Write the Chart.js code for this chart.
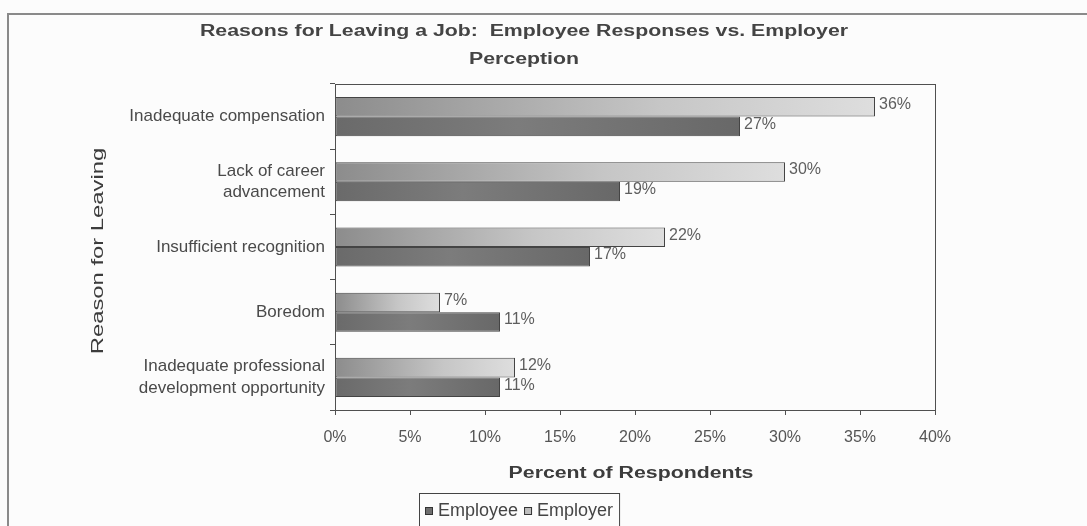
<!DOCTYPE html>
<html>
<head>
<meta charset="utf-8">
<script src="https://cdn.jsdelivr.net/npm/chart.js@4.4.1/dist/chart.umd.min.js"></script>
<style>
  html, body { margin: 0; padding: 0; background: #fcfcfc; }
  #wrap { width: 1087px; height: 526px; position: relative; overflow: hidden; }
  canvas { display: block; }
</style>
</head>
<body>
<div id="wrap"><canvas id="chart" width="1087" height="526"></canvas></div>
<script>
// ---------------- data ----------------
const chartTitle = ['Reasons for Leaving a Job:  Employee Responses vs. Employer', 'Perception'];
const categories = [
  ['Inadequate compensation'],
  ['Lack of career', 'advancement'],
  ['Insufficient recognition'],
  ['Boredom'],
  ['Inadequate professional', 'development opportunity']
];
const employeeValues = [27, 19, 17, 11, 11];
const employerValues = [36, 30, 22, 7, 12];
const seriesNames = ['Employee', 'Employer'];
const xTickLabels = ['0%', '5%', '10%', '15%', '20%', '25%', '30%', '35%', '40%'];
const xAxisTitle = 'Percent of Respondents';
const yAxisTitle = 'Reason for Leaving';

// ---------------- styles ----------------
const FONT = '"Liberation Sans", Arial, sans-serif';
const employeeStops = [[0, '#6a6a6a'], [0.45, '#7c7c7c'], [1, '#686868']];
const employerStops = [[0, '#8c8c8c'], [0.6, '#c6c6c6'], [1, '#dedede']];
const employeeSolid = '#6e6e6e';
const employerSolid = '#bdbdbd';

function barGradient(stops) {
  return function (ctx) {
    const chart = ctx.chart;
    if (!chart.chartArea || ctx.type !== 'data') return stops[1][1];
    const xs = chart.scales.x;
    const x0 = xs.getPixelForValue(0);
    const x1 = xs.getPixelForValue(ctx.raw);
    if (!isFinite(x0) || !isFinite(x1) || x1 === x0) return stops[1][1];
    const g = chart.ctx.createLinearGradient(x0, 0, x1, 0);
    stops.forEach(s => g.addColorStop(s[0], s[1]));
    return g;
  };
}

function drawStretchedText(ctx, text, x, y, font, color, sx, rotate) {
  ctx.save();
  ctx.font = font;
  ctx.fillStyle = color;
  ctx.textAlign = 'center';
  ctx.textBaseline = 'middle';
  ctx.translate(x, y);
  if (rotate) ctx.rotate(-Math.PI / 2);
  ctx.scale(sx, 1);
  ctx.fillText(text, 0, 0);
  ctx.restore();
}

const decorPlugin = {
  id: 'decor',
  beforeDraw(chart) {
    const ctx = chart.ctx;
    ctx.save();
    ctx.fillStyle = '#fcfcfc';
    ctx.fillRect(0, 0, chart.width, chart.height);
    // outer frame
    ctx.strokeStyle = '#8a8a8a';
    ctx.lineWidth = 2;
    ctx.beginPath();
    ctx.moveTo(8, chart.height + 2);
    ctx.lineTo(8, 14);
    ctx.lineTo(chart.width + 2, 14);
    ctx.stroke();
    ctx.restore();
  },
  afterDatasetsDraw(chart) {
    const ctx = chart.ctx;
    const a = chart.chartArea;
    // plot area frame
    ctx.save();
    ctx.strokeStyle = '#505050';
    ctx.lineWidth = 1;
    ctx.strokeRect(Math.round(a.left) + 0.5, Math.round(a.top) + 0.5,
                   Math.round(a.right - a.left), Math.round(a.bottom - a.top));
    // data labels
    ctx.font = '16px ' + FONT;
    ctx.fillStyle = '#5e5e5e';
    ctx.textAlign = 'left';
    ctx.textBaseline = 'middle';
    chart.data.datasets.forEach((ds, di) => {
      const meta = chart.getDatasetMeta(di);
      meta.data.forEach((bar, i) => {
        ctx.fillText(ds.data[i] + '%', bar.x + 4, bar.y - 2);
      });
    });
    ctx.restore();
  },
  afterDraw(chart) {
    const ctx = chart.ctx;
    const a = chart.chartArea;
    // chart title
    drawStretchedText(ctx, chartTitle[0], 524, 32, 'bold 16px ' + FONT, '#444444', 1.33, false);
    drawStretchedText(ctx, chartTitle[1], 524, 60, 'bold 16px ' + FONT, '#444444', 1.33, false);
    // axis titles
    drawStretchedText(ctx, xAxisTitle, (a.left + a.right) / 2 - 4, 474, 'bold 16px ' + FONT, '#3c3c3c', 1.33, false);
    drawStretchedText(ctx, yAxisTitle, 98, (a.top + a.bottom) / 2 + 4, '17px ' + FONT, '#3c3c3c', 1.4, true);
    // legend (Employee first, then Employer)
    ctx.save();
    ctx.font = '18px ' + FONT;
    ctx.textBaseline = 'middle';
    ctx.textAlign = 'left';
    const order = [1, 0];
    const items = order.map(di => ({
      label: chart.data.datasets[di].label,
      color: chart.data.datasets[di].legendColor
    }));
    const box = 8, gap = 5, pad = 6, itemGap = 6;
    let total = pad * 2;
    items.forEach((it, k) => {
      it.w = ctx.measureText(it.label).width;
      total += box + gap + it.w + (k < items.length - 1 ? itemGap : 0);
    });
    const cx = 519;
    const left = Math.round(cx - total / 2);
    const top = 493;
    ctx.fillStyle = '#fcfcfc';
    ctx.fillRect(left, top, total, chart.height - top + 5);
    ctx.strokeStyle = '#444444';
    ctx.lineWidth = 1;
    ctx.strokeRect(left + 0.5, top + 0.5, total, chart.height - top + 5);
    let x = left + pad;
    const cy = 511;
    items.forEach(it => {
      ctx.fillStyle = it.color;
      ctx.fillRect(x, cy - box / 2, box, box);
      ctx.strokeStyle = '#333333';
      ctx.strokeRect(x + 0.5, cy - box / 2 + 0.5, box - 1, box - 1);
      x += box + gap;
      ctx.fillStyle = '#444444';
      ctx.fillText(it.label, x, cy);
      x += it.w + itemGap;
    });
    ctx.restore();
  }
};

new Chart(document.getElementById('chart'), {
  type: 'bar',
  data: {
    labels: categories,
    datasets: [
      {
        label: seriesNames[1],
        data: employerValues,
        backgroundColor: barGradient(employerStops),
        legendColor: employerSolid,
        borderColor: '#444444',
        borderWidth: 1,
        borderSkipped: false,
        categoryPercentage: 0.6,
        barPercentage: 1.0
      },
      {
        label: seriesNames[0],
        data: employeeValues,
        backgroundColor: barGradient(employeeStops),
        legendColor: employeeSolid,
        borderColor: '#444444',
        borderWidth: 1,
        borderSkipped: false,
        categoryPercentage: 0.6,
        barPercentage: 1.0
      }
    ]
  },
  options: {
    indexAxis: 'y',
    responsive: false,
    maintainAspectRatio: false,
    animation: false,
    devicePixelRatio: 1,
    layout: { padding: { top: 84, right: 152, bottom: 76, left: 0 } },
    plugins: {
      legend: { display: false },
      title: { display: false },
      tooltip: { enabled: false }
    },
    scales: {
      x: {
        type: 'linear',
        min: 0,
        max: 40,
        ticks: {
          stepSize: 5,
          padding: 13,
          color: '#555555',
          font: { family: FONT, size: 16 },
          callback: (v, i) => xTickLabels[i]
        },
        grid: { drawOnChartArea: false, drawTicks: true, tickLength: 5, color: '#505050' },
        border: { display: false },
        afterFit: s => { s.height = 40; }
      },
      y: {
        type: 'category',
        ticks: {
          padding: 5,
          color: '#4a4a4a',
          font: { family: FONT, size: 17, lineHeight: 1.25 }
        },
        grid: { offset: true, drawOnChartArea: false, drawTicks: true, tickLength: 5, color: '#505050' },
        border: { display: false },
        afterFit: s => { s.width = 335; }
      }
    }
  },
  plugins: [decorPlugin]
});
</script>
</body>
</html>
